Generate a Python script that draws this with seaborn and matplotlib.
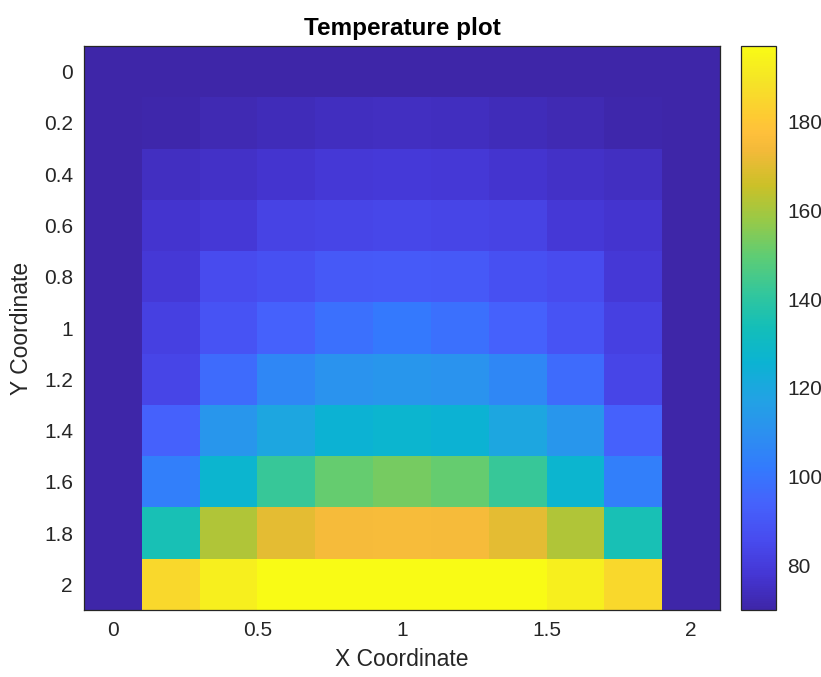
import numpy as np
import pandas as pd
import seaborn as sns
import matplotlib
matplotlib.use("Agg")
import matplotlib.pyplot as plt
from matplotlib.colors import LinearSegmentedColormap

# ---------------- data ----------------
x_coords = [0.0, 0.2, 0.4, 0.6, 0.8, 1.0, 1.2, 1.4, 1.6, 1.8, 2.0]
y_coords = [0.0, 0.2, 0.4, 0.6, 0.8, 1.0, 1.2, 1.4, 1.6, 1.8, 2.0]

row_y00 = [70, 70, 70, 70, 70, 70, 70, 70, 70, 70, 70]
row_y02 = [70, 70.5, 72, 73, 74, 74.5, 74, 73, 72, 70.5, 70]
row_y04 = [70, 74.5, 75.5, 77, 78.5, 79, 78.5, 77, 75.5, 74.5, 70]
row_y06 = [70, 77, 78.5, 82.5, 83.5, 84, 83.5, 82.5, 78.5, 77, 70]
row_y08 = [70, 78.5, 85.5, 87.5, 90.5, 91, 90.5, 87.5, 85.5, 78.5, 70]
row_y10 = [70, 81.5, 88.5, 93.5, 98.5, 101.5, 98.5, 93.5, 88.5, 81.5, 70]
row_y12 = [70, 83.5, 97, 106.5, 111, 112.5, 111, 106.5, 97, 83.5, 70]
row_y14 = [70, 93.5, 112.5, 119.5, 125.5, 127, 125.5, 119.5, 112.5, 93.5, 70]
row_y16 = [70, 103.5, 127, 142, 150.5, 153, 150.5, 142, 127, 103.5, 70]
row_y18 = [70, 134.5, 161.5, 170.5, 174.5, 175, 174.5, 170.5, 161.5, 134.5, 70]
row_y20 = [70, 185.5, 193, 197, 197, 197, 197, 197, 193, 185.5, 70]

x_tick_values = [0, 0.5, 1, 1.5, 2]
x_tick_labels = ["0", "0.5", "1", "1.5", "2"]
y_tick_values = [0, 0.2, 0.4, 0.6, 0.8, 1, 1.2, 1.4, 1.6, 1.8, 2]
y_tick_labels = ["0", "0.2", "0.4", "0.6", "0.8", "1", "1.2", "1.4", "1.6", "1.8", "2"]
cbar_ticks = [80, 100, 120, 140, 160, 180]

# ---------------- parula colormap ----------------
parula_pts = [
    (0 / 255, (0.2422, 0.1504, 0.6603)),
    (16 / 255, (0.2704, 0.2138, 0.8346)),
    (32 / 255, (0.2813, 0.2985, 0.9397)),
    (48 / 255, (0.2710, 0.3860, 0.9898)),
    (64 / 255, (0.2006, 0.4803, 0.9906)),
    (80 / 255, (0.1716, 0.5655, 0.9393)),
    (96 / 255, (0.1288, 0.6408, 0.8910)),
    (112 / 255, (0.0433, 0.7039, 0.8242)),
    (128 / 255, (0.0770, 0.7468, 0.7224)),
    (144 / 255, (0.2061, 0.7808, 0.6065)),
    (160 / 255, (0.3671, 0.8021, 0.4563)),
    (176 / 255, (0.5886, 0.7913, 0.2833)),
    (192 / 255, (0.7945, 0.7554, 0.1570)),
    (208 / 255, (0.9523, 0.7284, 0.2237)),
    (216 / 255, (0.9971, 0.7513, 0.2309)),
    (224 / 255, (0.9938, 0.7974, 0.1974)),
    (240 / 255, (0.9601, 0.8963, 0.1507)),
    (255 / 255, (0.9769, 0.9839, 0.0805)),
]
parula = LinearSegmentedColormap.from_list("parula", parula_pts, N=256)

# ---------------- figure ----------------
sns.set_theme(style="white")
plt.rcParams["font.family"] = ["Liberation Sans", "DejaVu Sans"]

W, H = 821, 677
fig = plt.figure(figsize=(W / 100, H / 100), dpi=100)
fig.patch.set_facecolor("white")
ax = fig.add_axes([84 / W, 1 - 610 / H, 636 / W, 564 / H])
cax = fig.add_axes([741 / W, 1 - 610 / H, 35 / W, 564 / H])

T = np.array([row_y00, row_y02, row_y04, row_y06, row_y08, row_y10,
              row_y12, row_y14, row_y16, row_y18, row_y20])
df = pd.DataFrame(T, index=y_coords, columns=x_coords)

sns.heatmap(df, ax=ax, cbar_ax=cax, cmap=parula,
            xticklabels=False, yticklabels=False, linewidths=0)

dx = x_coords[1] - x_coords[0]
dy = y_coords[1] - y_coords[0]
ax.set_xticks([(v - x_coords[0]) / dx + 0.5 for v in x_tick_values])
ax.set_xticklabels(x_tick_labels, rotation=0)
ax.set_yticks([(v - y_coords[0]) / dy + 0.5 for v in y_tick_values])
ax.set_yticklabels(y_tick_labels, rotation=0)

frame_col = (0.15, 0.15, 0.15)
for s in ax.spines.values():
    s.set_visible(True)
    s.set_color(frame_col)
    s.set_linewidth(0.9)

ax.tick_params(axis="both", direction="in", length=6, width=0.9,
               top=True, right=True, bottom=True, left=True,
               labelsize=15, colors=frame_col, labelcolor=frame_col, pad=8)

ax.set_xlabel("X Coordinate", fontsize=16.5, color=frame_col, labelpad=6)
ax.set_ylabel("Y Coordinate", fontsize=16.5, color=frame_col, labelpad=8)
ax.set_title("Temperature plot", fontsize=17.5, fontweight="bold",
             color="black", pad=8)

cbar = ax.collections[0].colorbar
cbar.set_ticks(cbar_ticks)
cbar.set_ticklabels([str(t) for t in cbar_ticks])
cbar.outline.set_visible(True)
cbar.outline.set_edgecolor(frame_col)
cbar.outline.set_linewidth(0.9)
cax.tick_params(direction="in", length=6, width=0.9, right=True, left=False,
                labelsize=15, colors=frame_col, labelcolor=frame_col, pad=8)

fig.savefig("out.png", dpi=100, facecolor="white")
